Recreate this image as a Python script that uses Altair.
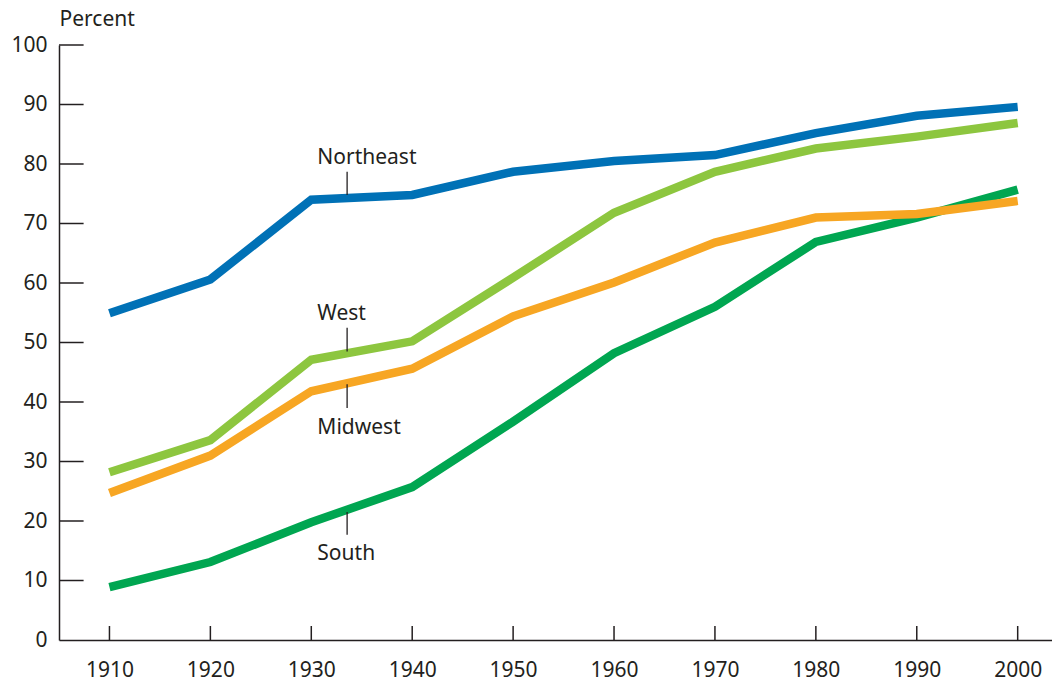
import altair as alt
import pandas as pd

years = [1910, 1920, 1930, 1940, 1950, 1960, 1970, 1980, 1990, 2000]
northeast = [54.9, 60.6, 74.0, 74.8, 78.7, 80.5, 81.5, 85.2, 88.1, 89.6]
west = [28.2, 33.6, 47.1, 50.2, 60.9, 71.8, 78.7, 82.6, 84.6, 86.9]
midwest = [24.7, 31.0, 41.8, 45.6, 54.4, 60.1, 66.8, 71.0, 71.6, 73.8]
south = [8.9, 13.1, 19.8, 25.7, 36.7, 48.2, 56.0, 66.9, 71.0, 75.7]

regions = ["South", "Midwest", "West", "Northeast"]
series = {"Northeast": northeast, "West": west, "Midwest": midwest, "South": south}
colors = {"Northeast": "#0071B6", "West": "#8DC63F", "Midwest": "#F7A623", "South": "#00A651"}

y_ticks = [0, 10, 20, 30, 40, 50, 60, 70, 80, 90, 100]

label_names = ["Northeast", "West", "Midwest", "South"]
label_year = [1930.6, 1930.6, 1930.6, 1930.6]
label_value = [80.0, 53.7, 34.6, 13.4]
leader_year = [1933.55, 1933.55, 1933.55, 1933.55]
leader_from = [78.7, 52.5, 43.0, 21.5]
leader_to = [74.8, 48.5, 39.0, 17.7]

FONT = "Noto Sans"
INK = "#231f20"
W, H = 993, 595

rows = []
for r in regions:
    for yr, v in zip(years, series[r]):
        rows.append({"region": r, "year": yr, "value": v})
df = pd.DataFrame(rows)

xscale = alt.Scale(domain=[1905, 2003.4], nice=False, zero=False)
yscale = alt.Scale(domain=[0, 100], nice=False)

xaxis = alt.Axis(values=years, format="d", ticks=False, grid=False, title=None,
                 labelPadding=19, labelFontSize=21, labelFont=FONT, labelColor=INK,
                 domainColor=INK, domainWidth=1.5, labelFlush=False)
yaxis = alt.Axis(values=y_ticks, ticks=False, grid=False, title="Percent",
                 titleAngle=0, titleAlign="left", titleBaseline="alphabetic",
                 titleX=0, titleY=-20, titleFont=FONT, titleFontSize=21,
                 titleFontWeight="normal", titleColor=INK,
                 labelPadding=12, labelFontSize=21, labelFont=FONT, labelColor=INK,
                 domainColor=INK, domainWidth=1.5)

base = alt.Chart(df).encode(
    x=alt.X("year:Q", scale=xscale, axis=xaxis),
    y=alt.Y("value:Q", scale=yscale, axis=yaxis),
)

layers = []
for r in regions:
    layers.append(
        base.transform_filter(alt.datum.region == r).mark_line(
            strokeWidth=8.5, strokeCap="butt", strokeJoin="miter", color=colors[r]
        )
    )

ytick_df = pd.DataFrame({"v": y_ticks[1:]})
ytick_layer = alt.Chart(ytick_df).mark_rule(color=INK, strokeWidth=1.5).encode(
    y=alt.Y("v:Q", scale=yscale), x=alt.value(0), x2=alt.value(24.6)
)
xtick_df = pd.DataFrame({"yr": years})
xtick_layer = alt.Chart(xtick_df).mark_rule(color=INK, strokeWidth=1.5).encode(
    x=alt.X("yr:Q", scale=xscale), y=alt.value(H), y2=alt.value(H - 14)
)

lab_df = pd.DataFrame({"name": label_names, "yr": label_year, "v": label_value})
lab_layer = alt.Chart(lab_df).mark_text(
    align="left", baseline="alphabetic", fontSize=21, font=FONT, color=INK
).encode(x=alt.X("yr:Q", scale=xscale), y=alt.Y("v:Q", scale=yscale), text="name:N")

lead_df = pd.DataFrame({"yr": leader_year, "a": leader_from, "b": leader_to})
lead_layer = alt.Chart(lead_df).mark_rule(color=INK, strokeWidth=1.3).encode(
    x=alt.X("yr:Q", scale=xscale), y=alt.Y("a:Q", scale=yscale), y2="b:Q"
)

chart = alt.layer(
    *layers, ytick_layer, xtick_layer, lead_layer, lab_layer
).properties(
    width=W, height=H,
    autosize=alt.AutoSizeParams(type="none"),
    padding={"left": 51, "top": 37, "right": 0, "bottom": 41},
    background="white",
).configure_view(stroke=None)

chart.save("out.html", embed_options={"renderer": "svg", "actions": False})
